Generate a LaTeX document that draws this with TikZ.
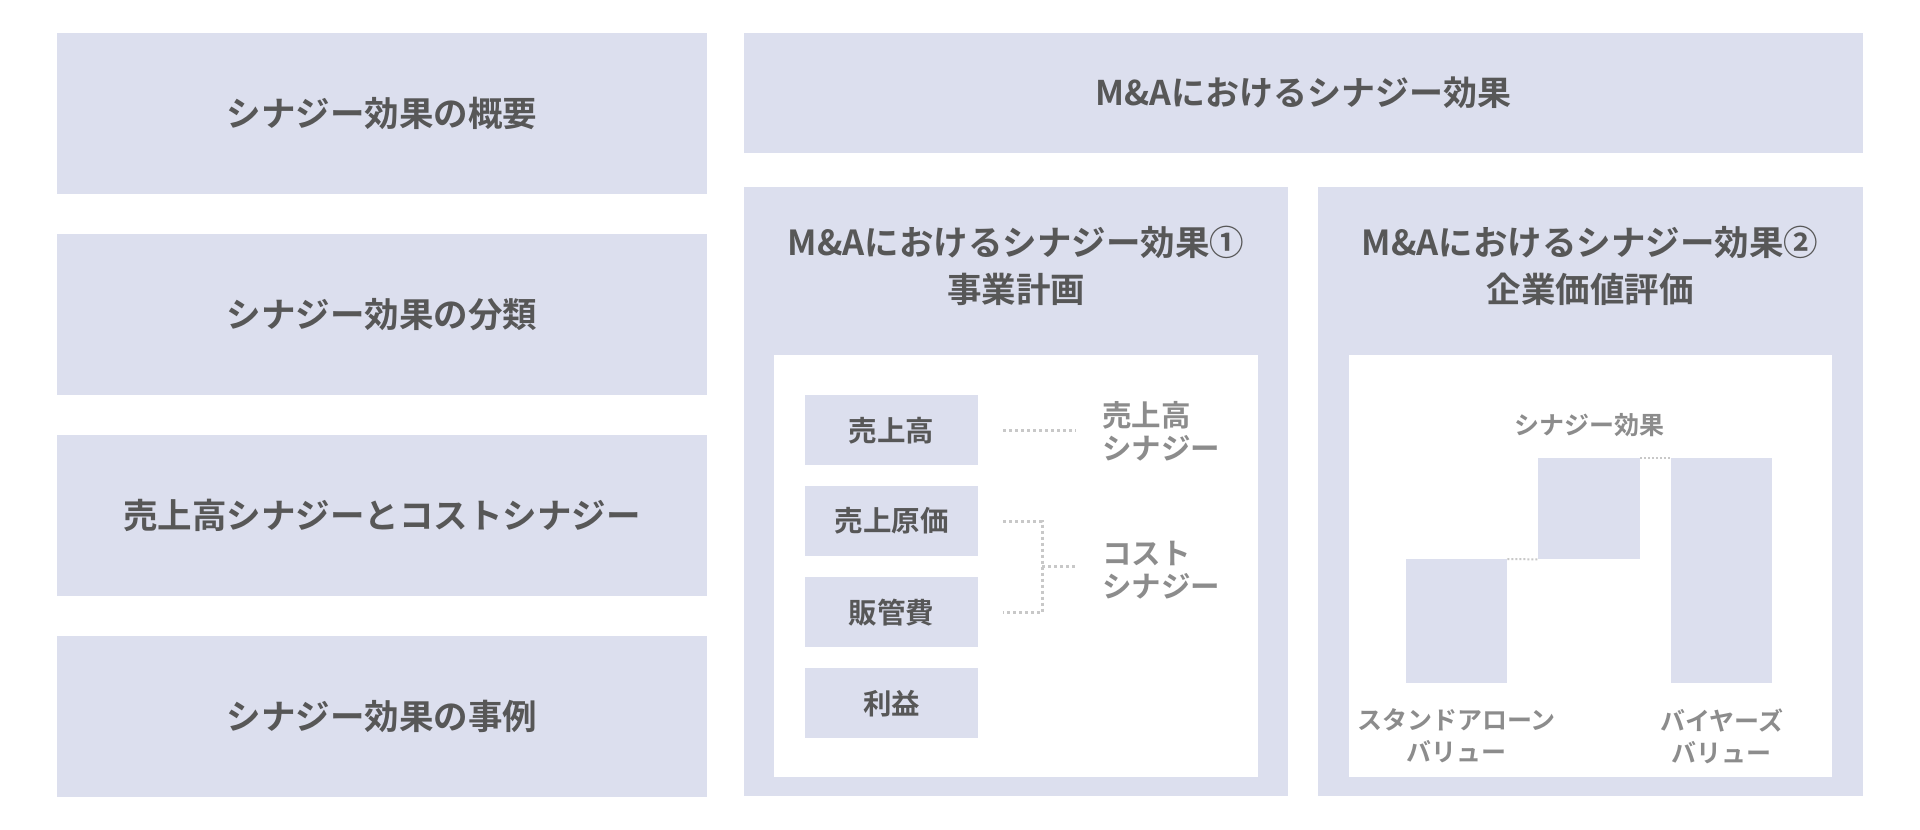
\documentclass[tikz,border=0pt]{standalone}
\usepackage{fontspec}
\setmainfont{Noto Sans CJK JP}[BoldFont={Noto Sans CJK JP Bold}]
\definecolor{panelc}{HTML}{DCDFEE}
\definecolor{darktxt}{HTML}{575757}
\definecolor{greytxt}{HTML}{8C8C8C}
\definecolor{dotc}{HTML}{C8C8C8}
\begin{document}
\begin{tikzpicture}[x=1pt,y=-1pt,
  panel/.style={fill=panelc, draw=none, inner sep=0pt, anchor=north west, text=darktxt, font=\bfseries\fontsize{34.5}{40}\selectfont},
  whitebox/.style={fill=white, draw=none, inner sep=0pt, anchor=north west},
  itembox/.style={fill=panelc, draw=none, inner sep=0pt, anchor=north west, minimum width=173pt, minimum height=70pt, text=darktxt, font=\bfseries\fontsize{28.5}{32}\selectfont},
  bar/.style={fill=panelc, draw=none, inner sep=0pt},
  titletxt/.style={text=darktxt, font=\bfseries\fontsize{34.5}{47}\selectfont, align=center, inner sep=0pt},
  lbl/.style={text=greytxt, font=\bfseries\fontsize{29.5}{33}\selectfont, align=left, inner sep=0pt, anchor=west},
  rlbl/.style={text=greytxt, font=\bfseries\fontsize{25}{32}\selectfont, align=center, inner sep=0pt},
  dotline/.style={draw=dotc, line width=3pt, dash pattern=on 3pt off 3pt}
]
\useasboundingbox (0,0) rectangle (1920,830);
\fill[white] (0,0) rectangle (1920,830);
% left column
\node[panel, minimum width=650pt, minimum height=161pt] (s1) at (57,33) {シナジー効果の概要};
\node[panel, minimum width=650pt, minimum height=161pt] (s2) at (57,234) {シナジー効果の分類};
\node[panel, minimum width=650pt, minimum height=161pt] (s3) at (57,435) {売上高シナジーとコストシナジー};
\node[panel, minimum width=650pt, minimum height=161pt] (s4) at (57,636) {シナジー効果の事例};
% right column
\node[panel, minimum width=1119pt, minimum height=120pt, font=\bfseries\fontsize{34}{40}\selectfont] (top) at (744,33) {M\&Aにおけるシナジー効果};
\node[panel, minimum width=544pt, minimum height=609pt] (pa) at (744,187) {};
\node[panel, minimum width=545pt, minimum height=609pt] (pb) at (1318,187) {};
\node[titletxt] (ta) at (1016,266) {M\&Aにおけるシナジー効果①\\事業計画};
\node[titletxt] (tb) at (1590,266) {M\&Aにおけるシナジー効果②\\企業価値評価};
\node[whitebox, minimum width=484pt, minimum height=422pt] (wa) at (774,355) {};
\node[whitebox, minimum width=483pt, minimum height=422pt] (wb) at (1349,355) {};
% items
\node[itembox] (i1) at (805,395) {売上高};
\node[itembox] (i2) at (805,486) {売上原価};
\node[itembox] (i3) at (805,577) {販管費};
\node[itembox] (i4) at (805,668) {利益};
\node[lbl] (l1) at (1102,431.5) {売上高\\シナジー};
\node[lbl] (l2) at (1102,570.5) {コスト\\シナジー};
\coordinate (d1a) at ([xshift=25pt]i1.east);
\coordinate (d1b) at ([xshift=98pt]i1.east);
\draw[dotline] (d1a) -- (d1b);
\coordinate (d2a) at ([xshift=25pt]i2.east);
\coordinate (d3a) at ([xshift=25pt]i3.east);
\coordinate (bx) at (1042,566.5);
\coordinate (bend) at (1077,566.5);
\draw[dotline] (d2a) -- (d2a -| bx) -- (d3a -| bx) -- (d3a);
\draw[dotline] (bx) -- (bend);
% bars
\node[bar, minimum width=101pt, minimum height=124pt, anchor=north west] (sa) at (1406,559) {};
\node[bar, minimum width=102pt, minimum height=101pt, anchor=north west] (syn) at (1538,458) {};
\node[bar, minimum width=101pt, minimum height=225pt, anchor=north west] (buy) at (1671,458) {};
\draw[draw=dotc, line width=2pt, dash pattern=on 2pt off 2pt] (sa.north east) -- (syn.south west);
\draw[draw=dotc, line width=2pt, dash pattern=on 2pt off 2pt] (syn.north east) -- (buy.north west);
\node[rlbl] (rl0) at (1589,425) {シナジー効果};
\node[rlbl] (rl1) at (1456.5,736) {スタンドアローン\\バリュー};
\node[rlbl] (rl2) at (1721.5,736) {バイヤーズ\\バリュー};
\end{tikzpicture}
\end{document}
